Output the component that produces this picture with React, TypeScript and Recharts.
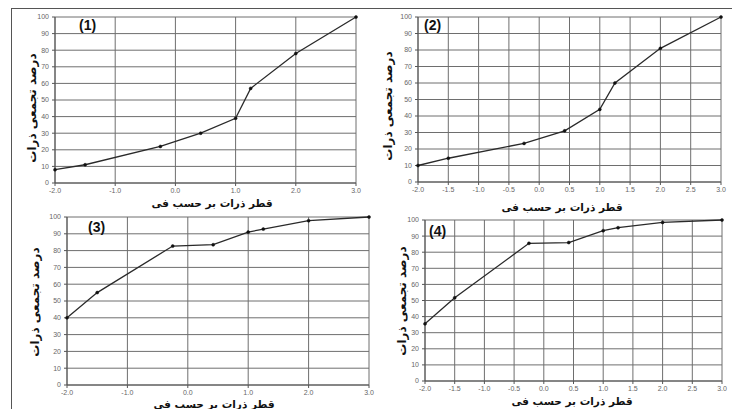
import { LineChart, Line, XAxis, YAxis, CartesianGrid } from 'recharts';

// phi sizes used for every sample
const phiValues = [-2.0, -1.5, -0.25, 0.42, 1.0, 1.25, 2.0, 3.0];

// cumulative percent for each sample
const sample1 = [8, 11, 22, 30, 39, 57, 78, 100];
const sample2 = [10, 14.4, 23.4, 31, 44, 60, 81, 100];
const sample3 = [40, 55, 82.7, 83.5, 91, 92.8, 97.8, 100];
const sample4 = [35.5, 51.7, 85.5, 86, 93.4, 95.2, 98.5, 100];

const wholeTicks = [-2, -1, 0, 1, 2, 3];
const halfTicks = [-2, -1.5, -1, -0.5, 0, 0.5, 1, 1.5, 2, 2.5, 3];
const percentTicks = [0, 10, 20, 30, 40, 50, 60, 70, 80, 90, 100];

const yTitle = 'درصد تجمعی ذرات';
const xTitle = 'قطر ذرات بر حسب فی';
const panelLabels = ['(1)', '(2)', '(3)', '(4)'];

const YW = 40; // y axis width
const MT = 6;
const MR = 8;
const XH = 20;

const toPoints = (values: number[]) =>
    phiValues.map((phi, i) => ({ phi, pct: values[i] }));

interface PanelProps {
    values: number[];
    xTicks: number[];
    plot: { x0: number; x1: number; y0: number; y1: number };
    label: string;
    labelPos: [number, number];
    yTitlePos: [number, number];
    xTitlePos: [number, number];
}

function Panel({ values, xTicks, plot, label, labelPos, yTitlePos, xTitlePos }: PanelProps) {
    const w = plot.x1 - plot.x0 + YW + MR;
    const h = plot.y1 - plot.y0 + MT + XH;
    return (
        <>
            <div style={{ position: 'absolute', left: plot.x0 - YW, top: plot.y0 - MT }}>
                <LineChart
                    width={w}
                    height={h}
                    data={toPoints(values)}
                    margin={{ top: MT, right: MR, left: 0, bottom: 0 }}
                >
                    <CartesianGrid stroke="#6e6e6e" strokeWidth={1} />
                    <XAxis
                        type="number"
                        dataKey="phi"
                        domain={[-2, 3]}
                        ticks={xTicks}
                        tickFormatter={(v: number) => v.toFixed(1)}
                        height={XH}
                        tickSize={3}
                        tickMargin={2}
                        stroke="#555"
                        tick={{ fontSize: 7, fill: '#666', fontFamily: 'Liberation Sans' }}
                        interval={0}
                    />
                    <YAxis
                        type="number"
                        domain={[0, 100]}
                        ticks={percentTicks}
                        width={YW}
                        tickSize={3}
                        tickMargin={3}
                        stroke="#555"
                        tick={{ fontSize: 7, fill: '#666', fontFamily: 'Liberation Sans' }}
                        interval={0}
                    />
                    <Line
                        type="linear"
                        dataKey="pct"
                        stroke="#2a2a2a"
                        strokeWidth={1.3}
                        dot={{ r: 1.5, fill: '#111', stroke: '#111', strokeWidth: 0.5 }}
                        isAnimationActive={false}
                    />
                </LineChart>
            </div>

            {/* panel number */}
            <div style={{
                position: 'absolute', left: labelPos[0], top: labelPos[1],
                fontFamily: 'Liberation Sans', fontWeight: 'bold', fontSize: 14, lineHeight: '14px', color: '#111'
            }}>
                {label}
            </div>

            {/* y title */}
            <div style={{
                position: 'absolute', left: yTitlePos[0], top: yTitlePos[1],
                transform: 'translate(-50%, -50%) rotate(-90deg)',
                whiteSpace: 'nowrap', direction: 'rtl',
                fontFamily: 'DejaVu Sans', fontWeight: 'bold', fontSize: 12, color: '#111'
            }}>
                {yTitle}
            </div>

            {/* x title */}
            <div style={{
                position: 'absolute', left: xTitlePos[0], top: xTitlePos[1],
                transform: 'translate(-50%, -50%)',
                whiteSpace: 'nowrap', direction: 'rtl',
                fontFamily: 'DejaVu Sans', fontWeight: 'bold', fontSize: 10.5, color: '#111'
            }}>
                {xTitle}
            </div>
        </>
    );
}

export default function App() {
    return (
        <div style={{
            position: 'absolute', left: 0, top: 0, width: 732, height: 409,
            background: '#fff', overflow: 'hidden'
        }}>
            {/* outer frame of the scanned figure */}
            <div style={{ position: 'absolute', left: 11, top: 8, width: 730, height: 420, borderLeft: '1.5px solid #555', borderTop: '1.5px solid #555' }} />

            <Panel
                values={sample1}
                xTicks={wholeTicks}
                plot={{ x0: 55, x1: 356, y0: 17, y1: 183 }}
                label={panelLabels[0]}
                labelPos={[79, 18]}
                yTitlePos={[32, 108]}
                xTitlePos={[212, 203]}
            />
            <Panel
                values={sample2}
                xTicks={halfTicks}
                plot={{ x0: 418, x1: 721, y0: 17, y1: 182 }}
                label={panelLabels[1]}
                labelPos={[424, 18]}
                yTitlePos={[388, 106]}
                xTitlePos={[562, 207]}
            />
            <Panel
                values={sample3}
                xTicks={wholeTicks}
                plot={{ x0: 67, x1: 369, y0: 217, y1: 385 }}
                label={panelLabels[2]}
                labelPos={[88, 220]}
                yTitlePos={[35, 302]}
                xTitlePos={[214, 404]}
            />
            <Panel
                values={sample4}
                xTicks={halfTicks}
                plot={{ x0: 425, x1: 722, y0: 220, y1: 381 }}
                label={panelLabels[3]}
                labelPos={[429, 224]}
                yTitlePos={[402, 301]}
                xTitlePos={[572, 401]}
            />
        </div>
    );
}
